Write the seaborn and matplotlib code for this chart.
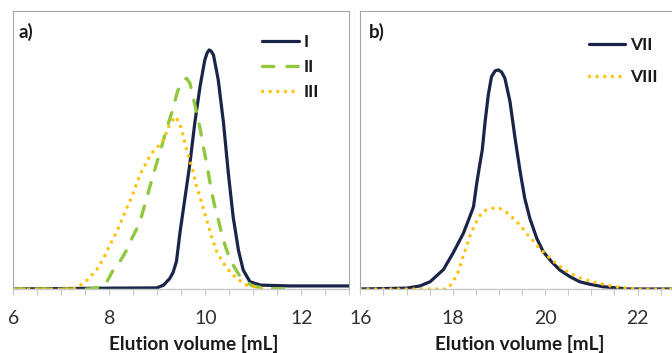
import numpy as np
import pandas as pd
import matplotlib
matplotlib.use("Agg")
import matplotlib.pyplot as plt
import seaborn as sns
from matplotlib.ticker import MultipleLocator

# ---------------- data (signal normalised to plot height) ----------------
I_x = [6.0, 8.0, 8.99, 9.13, 9.26, 9.33, 9.4, 9.47, 9.57, 9.68, 9.78, 9.89, 9.99,
       10.04, 10.08, 10.12, 10.17, 10.27, 10.38, 10.48, 10.58, 10.69, 10.79, 10.93,
       11.15, 11.76, 13.0]
I_y = [0.0, 0.003, 0.004, 0.014, 0.038, 0.06, 0.1, 0.2, 0.32, 0.452, 0.596, 0.728, 0.824,
       0.85, 0.86, 0.856, 0.842, 0.752, 0.596, 0.416, 0.26, 0.14, 0.068, 0.026,
       0.014, 0.011, 0.011]

II_x = [6.0, 7.6, 7.9, 8.08, 8.22, 8.36, 8.47, 8.63, 8.8, 8.93, 9.07, 9.2, 9.33, 9.42,
        9.5, 9.56, 9.61, 9.68, 9.76, 9.84, 9.9, 9.96, 10.03, 10.1, 10.18, 10.27, 10.34,
        10.42, 10.5, 10.6, 10.72, 10.86, 11.0, 11.3, 11.65]
II_y = [0.0, 0.0, 0.01, 0.068, 0.098, 0.14, 0.182, 0.236, 0.34, 0.42, 0.5, 0.58, 0.65, 0.71,
        0.74, 0.752, 0.758, 0.74, 0.68, 0.62, 0.57, 0.51, 0.45, 0.38, 0.31, 0.25, 0.2,
        0.152, 0.115, 0.08, 0.046, 0.024, 0.01, 0.002, 0.0]

III_x = [6.0, 7.1, 7.32, 7.56, 7.74, 7.88, 8.01, 8.15, 8.26, 8.36, 8.47, 8.57, 8.67, 8.78,
         8.88, 9.02, 9.13, 9.23, 9.33, 9.38, 9.45, 9.51, 9.61, 9.72, 9.82, 9.93, 10.03,
         10.13, 10.24, 10.38, 10.51, 10.65, 10.86, 11.15, 11.3]
III_y = [0.0, 0.0, 0.003, 0.035, 0.071, 0.11, 0.158, 0.204, 0.248, 0.29, 0.332, 0.38, 0.422,
         0.458, 0.488, 0.514, 0.536, 0.582, 0.61, 0.62, 0.6, 0.572, 0.5, 0.44, 0.368, 0.308,
         0.248, 0.188, 0.134, 0.092, 0.062, 0.038, 0.014, 0.003, 0.0]

VII_x = [16.0, 17.0, 17.29, 17.51, 17.8, 18.01, 18.23, 18.37, 18.45, 18.52, 18.59, 18.64,
         18.7, 18.77, 18.84, 18.92, 18.99, 19.06, 19.13, 19.24, 19.35, 19.46, 19.56, 19.67,
         19.82, 19.96, 20.14, 20.32, 20.54, 20.75, 20.97, 21.26, 21.8, 23.0]
VII_y = [0.0, 0.003, 0.011, 0.026, 0.07, 0.13, 0.2, 0.26, 0.296, 0.38, 0.452, 0.5,
         0.6, 0.698, 0.764, 0.785, 0.788, 0.78, 0.758, 0.674, 0.542, 0.422, 0.326, 0.254,
         0.182, 0.134, 0.098, 0.068, 0.044, 0.026, 0.017, 0.008, 0.0, 0.0]

VIII_x = [16.0, 17.87, 17.96, 18.09, 18.16, 18.23, 18.3, 18.37, 18.45, 18.55, 18.66, 18.84,
          18.99, 19.13, 19.26, 19.37, 19.47, 19.56, 19.66, 19.76, 19.85, 19.96, 20.07,
          20.18, 20.29, 20.41, 20.54, 20.67, 20.81, 20.96, 21.1, 21.26, 21.39, 21.6, 22.0, 23.0]
VIII_y = [0.0, 0.0, 0.015, 0.05, 0.081, 0.12, 0.153, 0.19, 0.22, 0.255, 0.28, 0.29,
          0.292, 0.28, 0.262, 0.245, 0.227, 0.208, 0.188, 0.17, 0.152, 0.134, 0.116,
          0.1, 0.086, 0.07, 0.056, 0.047, 0.036, 0.029, 0.023, 0.017, 0.012, 0.006, 0.0, 0.0]

labels_a = ["I", "II", "III"]
labels_b = ["VII", "VIII"]
xlabel = "Elution volume [mL]"

NAVY = "#1a2449"
GREEN = "#92c83e"
GOLD = "#ffc000"

df_a = pd.concat([
    pd.DataFrame({"volume": I_x, "signal": I_y, "sample": "I"}),
    pd.DataFrame({"volume": II_x, "signal": II_y, "sample": "II"}),
    pd.DataFrame({"volume": III_x, "signal": III_y, "sample": "III"}),
], ignore_index=True)
df_b = pd.concat([
    pd.DataFrame({"volume": VII_x, "signal": VII_y, "sample": "VII"}),
    pd.DataFrame({"volume": VIII_x, "signal": VIII_y, "sample": "VIII"}),
], ignore_index=True)

# ---------------- style ----------------
sns.set_style("white")
plt.rcParams["font.family"] = ["Lato", "DejaVu Sans"]

W, H = 672, 353
fig = plt.figure(figsize=(W / 100, H / 100), dpi=100)


def px_axes(l, r, t, b):
    return [l / W, 1 - b / H, (r - l) / W, (b - t) / H]


ax_a = fig.add_axes(px_axes(13.3, 349.3, 11, 289))
ax_b = fig.add_axes(px_axes(360.3, 683.7, 11, 289))

styles = {
    "I": dict(color=NAVY, dash="", lw=2.3),
    "II": dict(color=GREEN, dash=(3.4, 3.9), lw=2.4),
    "III": dict(color=GOLD, dash=(0.001, 2.2), lw=2.5),
    "VII": dict(color=NAVY, dash="", lw=2.3),
    "VIII": dict(color=GOLD, dash=(0.001, 2.2), lw=2.5),
}

for ax, df, labels, xlim in [(ax_a, df_a, labels_a, (6, 13)), (ax_b, df_b, labels_b, (16, 23))]:
    sns.lineplot(data=df, x="volume", y="signal", hue="sample", style="sample",
                 hue_order=labels, style_order=labels,
                 palette={k: styles[k]["color"] for k in labels},
                 dashes={k: styles[k]["dash"] for k in labels},
                 errorbar=None, legend=False, ax=ax)
    for line, lab in zip(ax.lines, labels):
        line.set_linewidth(styles[lab]["lw"])
        line.set_dash_capstyle("round")
        line.set_solid_capstyle("round")
        line.set_label(lab)
    ax.set_xlim(*xlim)
    ax.set_ylim(0, 1)
    ax.set_yticks([])
    ax.set_ylabel("")
    ax.xaxis.set_major_locator(MultipleLocator(2))
    ax.xaxis.set_minor_locator(MultipleLocator(0.5))
    ax.tick_params(axis="x", which="both", direction="out", length=4.5, width=0.8,
                   color="#c8c8c8", bottom=True)
    ax.tick_params(axis="x", which="major", labelsize=14, pad=10.5, labelcolor="#303030")
    for side in ["top", "left", "right"]:
        ax.spines[side].set_color("#a6a6a6")
        ax.spines[side].set_linewidth(0.8)
    ax.spines["bottom"].set_color("#c8c8c8")
    ax.spines["bottom"].set_linewidth(1.0)
    ax.set_xlabel(xlabel, fontsize=13.7, fontweight="bold", color="#1a1a1a", va="baseline")

ax_a.xaxis.set_label_coords((194.2 - 13.3) / 336.0, (289 - 350) / 278.0)
ax_b.xaxis.set_label_coords((520.2 - 360.3) / 323.4, (289 - 350) / 278.0)

ax_a.text((18.3 - 13.3) / 336.0, (289 - 31.7) / 278.0, "a)", transform=ax_a.transAxes,
          ha="left", va="center", fontsize=13.5, fontweight="bold", color="#1a1a1a")
ax_b.text((369.3 - 360.3) / 323.4, (289 - 32) / 278.0, "b)", transform=ax_b.transAxes,
          ha="left", va="center", fontsize=13.5, fontweight="bold", color="#1a1a1a")

leg_a = ax_a.legend(ax_a.lines[:3], labels_a, loc="center left",
                    bbox_to_anchor=(261.7 / W, 1 - 67 / H), bbox_transform=fig.transFigure,
                    frameon=False, borderpad=0, borderaxespad=0, handlelength=2.15,
                    handletextpad=0.28, labelspacing=0.52,
                    prop={"weight": "bold", "size": 12.5})
leg_b = ax_b.legend(ax_b.lines[:2], labels_b, loc="center left",
                    bbox_to_anchor=(588.7 / W, 1 - 61 / H), bbox_transform=fig.transFigure,
                    frameon=False, borderpad=0, borderaxespad=0, handlelength=2.1,
                    handletextpad=0.28, labelspacing=0.9,
                    prop={"weight": "bold", "size": 12.5})
for leg in (leg_a, leg_b):
    for t in leg.get_texts():
        t.set_color("#1a1a1a")

fig.savefig("out.png", dpi=100)
